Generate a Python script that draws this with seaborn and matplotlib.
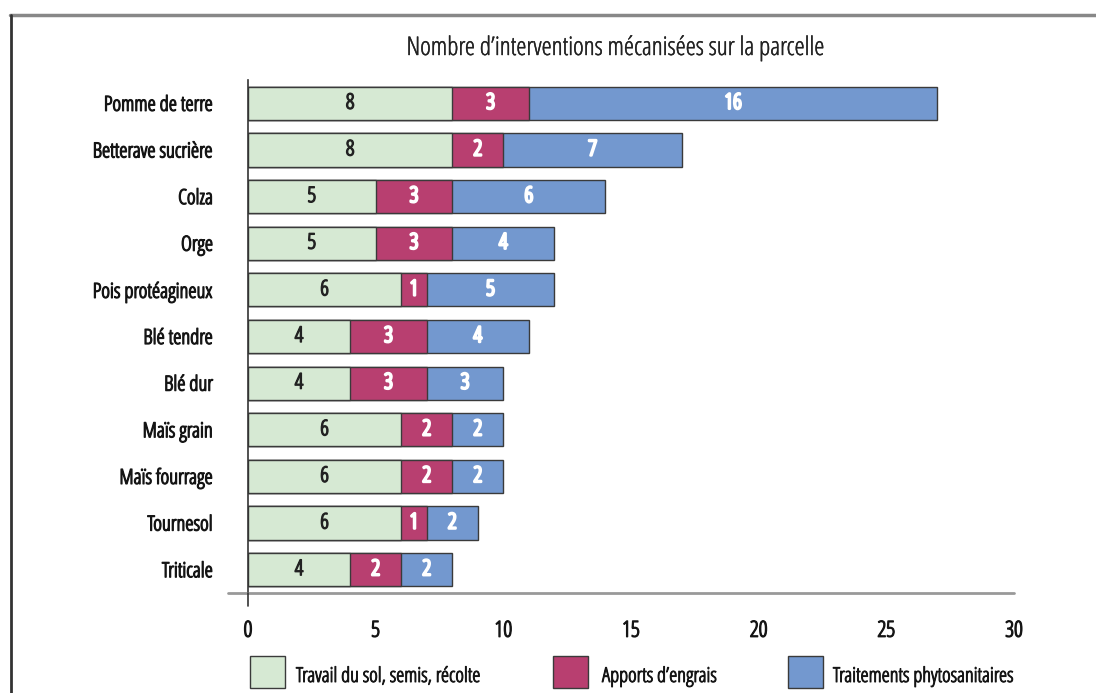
import matplotlib
matplotlib.use("Agg")
import matplotlib.pyplot as plt
import matplotlib.patheffects as pe
import seaborn as sns
import numpy as np
from matplotlib.patches import Rectangle
from matplotlib.lines import Line2D

categories = ["Pomme de terre", "Betterave sucrière", "Colza", "Orge", "Pois protéagineux",
              "Blé tendre", "Blé dur", "Maïs grain", "Maïs fourrage", "Tournesol", "Triticale"]
travail = [8, 8, 5, 5, 6, 4, 4, 6, 6, 6, 4]
engrais = [3, 2, 3, 3, 1, 3, 3, 2, 2, 1, 2]
phyto = [16, 7, 6, 4, 5, 4, 3, 2, 2, 2, 2]
series_names = ["Travail du sol, semis, récolte", "Apports d\u2019engrais", "Traitements phytosanitaires"]
title = "Nombre d\u2019interventions mécanisées sur la parcelle"
xticks = [0, 5, 10, 15, 20, 25, 30]

colors = ["#d6e9d3", "#b83f70", "#7398cf"]
edge = "#3a3a3a"
dark = "#151515"

sns.set_theme(style="white")
plt.rcParams["font.family"] = ["Open Sans", "DejaVu Sans"]
plt.rcParams["font.stretch"] = "condensed"
plt.rcParams["font.weight"] = "normal"

def heavy(color, w=0.9):
    return [pe.withStroke(linewidth=w, foreground=color)]

fig = plt.figure(figsize=(10.96, 6.93), dpi=100)
ax = fig.add_axes([248/1096, 1-593/693, (1014-248)/1096, (593-80)/693])

t = np.array(travail)
e = np.array(engrais)
p = np.array(phyto)
c1 = t
c2 = t + e
c3 = t + e + p

for vals, col in [(c3, colors[2]), (c2, colors[1]), (c1, colors[0])]:
    sns.barplot(x=vals, y=categories, orient="h", color=col, edgecolor=edge,
                linewidth=1.0, width=0.71, saturation=1, ax=ax)

# segment labels
for i in range(len(categories)):
    ax.text(t[i]/2, i, str(t[i]), ha="center", va="center", color="#222222",
            fontsize=15.5, fontstretch="condensed", path_effects=heavy("#222222", 1.0))
    ax.text(c1[i] + e[i]/2, i, str(e[i]), ha="center", va="center", color="white",
            fontsize=15.5, fontstretch="condensed", path_effects=heavy("white", 1.8))
    ax.text(c2[i] + p[i]/2, i, str(p[i]), ha="center", va="center", color="white",
            fontsize=15.5, fontstretch="condensed", path_effects=heavy("white", 1.8))

ax.set_xlim(0, 30)
ax.set_ylim(len(categories)-0.5, -0.5)
ax.set_xticks(xticks)
ax.set_xticklabels([str(v) for v in xticks], fontsize=16, fontstretch="condensed")
ax.set_yticks(range(len(categories)))
ax.set_yticklabels(categories, fontsize=15, fontstretch="condensed")
for lab in ax.get_yticklabels() + ax.get_xticklabels():
    lab.set_path_effects(heavy(dark, 0.9))
ax.set_yticks(np.arange(-0.5, len(categories), 1.0), minor=True)
ax.tick_params(axis="y", which="major", length=0, pad=25, labelcolor=dark)
ax.tick_params(axis="y", which="minor", length=20, width=1.2, color="#444444", direction="out")
ax.tick_params(axis="x", which="major", length=13, width=1.5, color="#999999", direction="out",
               pad=7, labelcolor=dark)
ax.set_xlabel("")
ax.set_ylabel("")
for s in ["top", "right"]:
    ax.spines[s].set_visible(False)
ax.spines["left"].set_color("#333333")
ax.spines["left"].set_linewidth(1.2)
ax.spines["bottom"].set_visible(False)
# gray baseline extending left of y-axis
ax.add_line(Line2D([-20/766, 1], [0, 0], transform=ax.transAxes, color="#999999",
                   linewidth=2, clip_on=False, zorder=5))
# y-axis extends below baseline
ax.add_line(Line2D([0, 0], [0, -13/513], transform=ax.transAxes, color="#333333",
                   linewidth=1.2, clip_on=False, zorder=5))

fig.text(617/1096, 1-48/693, title, ha="center", va="center", fontsize=18.5,
         color="#222222", fontweight="normal", fontstretch="condensed",
         path_effects=heavy("#222222", 0.3))

# frame
fig.add_artist(Line2D([10/1096, 1], [1-15/693, 1-15/693], color="#888888", linewidth=2.5))
fig.add_artist(Line2D([11/1096, 11/1096], [0, 1-15/693], color="#333333", linewidth=2))

# legend
leg_x = [250, 553, 788]
txt_x = [296, 602, 833]
for lx, tx, col, name in zip(leg_x, txt_x, colors, series_names):
    fig.add_artist(Rectangle((lx/1096, 1-688/693), 35/1096, 32/693, facecolor=col,
                             edgecolor=edge, linewidth=1.0, transform=fig.transFigure))
    fig.text(tx/1096, 1-677/693, name, ha="left", va="center", fontsize=14.8, color=dark,
             fontstretch="condensed", path_effects=heavy(dark, 0.7))

fig.savefig("out.png", dpi=100)
